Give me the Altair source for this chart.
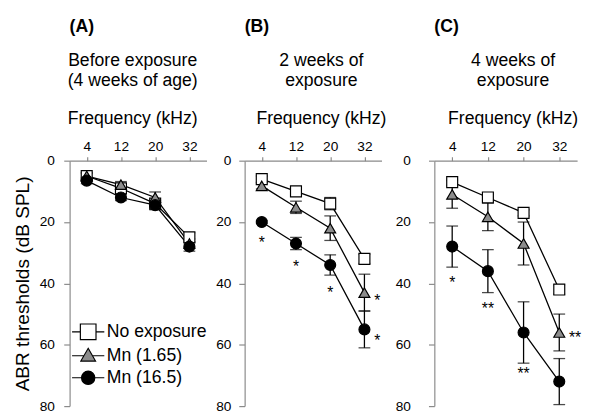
import altair as alt
import pandas as pd

freqs = [4, 12, 20, 32]
groups = ["No exposure", "Mn (1.65)", "Mn (16.5)"]

# Panel A: before exposure (4 weeks of age)
a_none = [5, 9, 14, 25]
a_none_err = [1, 1, 1, 1.5]
a_low = [5, 7.8, 12, 27]
a_low_err = [1, 1, 1.8, 1.5]
a_high = [6.5, 12, 14.5, 28]
a_high_err = [1, 1, 1.5, 1.5]

# Panel B: 2 weeks of exposure
b_none = [6, 10, 14, 32]
b_none_err = [1, 1, 2, 1.5]
b_low = [8.2, 15.2, 22, 43]
b_low_err = [1, 2, 4, 6]
b_high = [20, 27, 34, 55]
b_high_err = [0.5, 2, 3.3, 6]

# Panel C: 4 weeks of exposure
c_none = [7, 12, 17, 42]
c_none_err = [1, 1, 1, 1.5]
c_low = [11, 18.3, 27, 56]
c_low_err = [4.5, 4.5, 7, 6]
c_high = [28, 36, 56, 72]
c_high_err = [6.7, 7, 10, 7.5]

# significance marks
sig_panel = ["B", "B", "B", "B", "B", "C", "C", "C", "C"]
sig_freq = [4, 12, 20, 32, 32, 4, 12, 20, 32]
sig_value = [25.5, 33.5, 41.8, 44.4, 57.4, 38.7, 47, 68.2, 56.5]
sig_text = ["*", "*", "*", "*", "*", "*", "**", "**", "**"]
sig_side = ["below", "below", "below", "right", "right", "below", "below", "below", "right"]

series = {
    "A": [(a_none, a_none_err), (a_low, a_low_err), (a_high, a_high_err)],
    "B": [(b_none, b_none_err), (b_low, b_low_err), (b_high, b_high_err)],
    "C": [(c_none, c_none_err), (c_low, c_low_err), (c_high, c_high_err)],
}
rows = []
for p, lst in series.items():
    for g, (vals, errs) in zip(groups, lst):
        for f, v, e in zip(freqs, vals, errs):
            rows.append({"panel": p, "group": g, "freq": f, "value": v,
                         "lo": v - e, "hi": v + e})
df = pd.DataFrame(rows)
sig_df = pd.DataFrame({"panel": sig_panel, "freq": sig_freq, "value": sig_value,
                       "text": sig_text, "side": sig_side})

GRAY = "#8a8a8a"
point_shapes = ["square", "triangle-up", "circle"]
fills = ["white", "#8c8c8c", "black"]
strokes = ["black", "black", "black"]
legend_paths = [
    "M-2.06,0H-1M1,0H2.06M-1,-1H1V1H-1Z",
    "M-2.06,0H-0.55M0.55,0H2.06M0,-0.95L0.94,0.68H-0.94Z",
    "M-2.06,0H2.06M0.85,0A0.85,0.85,0,1,1,-0.85,0A0.85,0.85,0,1,1,0.85,0Z",
]


def panel(key, width, ytitle, subtitle, label, label_pad, title_x, with_legend):
    xscale = alt.Scale(type="point", padding=0.5)
    yscale = alt.Scale(domain=[0, 80], reverse=True, nice=False, zero=False)
    xaxis = alt.Axis(orient="top", title="Frequency (kHz)",
                     labelAngle=0, domainColor=GRAY, tickColor=GRAY, tickSize=4,
                     domainWidth=1.2, tickWidth=1.2,
                     labelFontSize=14, labelColor="black", labelPadding=3,
                     titleFontSize=18, titleFontWeight="normal",
                     titlePadding=13, titleColor="black", titleX=title_x, grid=False)
    subaxis = alt.Axis(orient="top", title=subtitle, labels=False, ticks=False,
                       domain=False, grid=False, titleFontSize=18,
                       titleFontWeight="normal", titleLineHeight=20, titlePadding=73,
                       titleColor="black", titleX=title_x)
    yaxis = alt.Axis(values=[0, 20, 40, 60, 80], title=ytitle, domainColor=GRAY,
                     tickColor=GRAY, tickSize=6, domainWidth=1.2, tickWidth=1.2,
                     labelFontSize=14, labelColor="black", labelPadding=label_pad,
                     titleFontSize=19.5, titleFontWeight="normal", titlePadding=7,
                     titleColor="black", grid=False)
    x = alt.X("freq:O", sort=freqs, scale=xscale, axis=xaxis)

    def y(field):
        return alt.Y(field, type="quantitative", scale=yscale, axis=yaxis)

    base = alt.Chart(df).transform_filter(alt.datum.panel == key)

    lines = base.mark_line(color="black", strokeWidth=1.3).encode(
        x=x, y=y("value"), detail="group:N")
    rules = base.mark_rule(color="black", strokeWidth=1.3).encode(
        x=x, y=y("lo"), y2="hi:Q")
    tlo = base.mark_tick(color="black", thickness=1.3, size=12).encode(x=x, y=y("lo"))
    thi = base.mark_tick(color="black", thickness=1.3, size=12).encode(x=x, y=y("hi"))
    pts = base.mark_point(filled=True, stroke="black", strokeWidth=1.2, size=125,
                          opacity=1).encode(
        x=x, y=y("value"),
        shape=alt.Shape("group:N", scale=alt.Scale(domain=groups, range=point_shapes),
                        legend=None),
        fill=alt.Fill("group:N", scale=alt.Scale(domain=groups, range=fills),
                      legend=None))
    layers = [lines, rules, tlo, thi, pts]
    if key != "A":
        sbase = alt.Chart(sig_df).transform_filter(alt.datum.panel == key)
        below = sbase.transform_filter(alt.datum.side == "below").mark_text(
            fontSize=16, color="black", align="center", baseline="middle", dy=4).encode(
            x=x, y=y("value"), text="text:N")
        right = sbase.transform_filter(alt.datum.side == "right").mark_text(
            fontSize=16, color="black", align="left", baseline="middle", dx=10, dy=4).encode(
            x=x, y=y("value"), text="text:N")
        layers += [below, right]
    inner = alt.layer(*layers)
    if with_legend:
        leg = dict(orient="none", legendX=10, legendY=166, padding=0, title=None,
                   labelFontSize=18, labelColor="black", symbolSize=256,
                   symbolStrokeColor="black", symbolStrokeWidth=1.2,
                   rowPadding=3.5, labelOffset=10, symbolOffset=0)
        lg = alt.Chart(df).transform_filter("false").mark_point(
            filled=True, strokeWidth=1.2, opacity=1).encode(
            x=x, y=y("value"),
            shape=alt.Shape("group:N", scale=alt.Scale(domain=groups, range=legend_paths),
                            legend=alt.Legend(**leg)),
            fill=alt.Fill("group:N", scale=alt.Scale(domain=groups, range=fills),
                          legend=alt.Legend(**leg)),
            stroke=alt.Stroke("group:N", scale=alt.Scale(domain=groups, range=strokes),
                              legend=alt.Legend(**leg)))
        inner = alt.layer(*layers, lg).resolve_scale(
            shape="independent", fill="independent", stroke="independent")
    # invisible layer carrying the panel heading as a second top axis title
    head = base.mark_point(opacity=0).encode(
        x=alt.X("freq:O", sort=freqs, scale=xscale, axis=subaxis), y=y("value"))
    ch = alt.layer(inner, head).resolve_scale(x="independent").properties(
        width=width, height=251,
        title=alt.TitleParams(text=label, anchor="start", frame="group", fontSize=18,
                              fontWeight="bold", color="black", offset=17))
    return ch


pa = panel("A", 140, "ABR thresholds (dB SPL)", ["Before exposure", "(4 weeks of age)"],
           "(A)", 9.5, 64, True)
pb = panel("B", 140, None, ["2 weeks of", "exposure"], "(B)", 8, 78, False)
pc = panel("C", 146, None, ["4 weeks of", "exposure"], "(C)", 18.5, 80, False)

chart = alt.hconcat(pa, pb, pc, spacing=8).properties(
    padding={"left": 4, "top": 5.5, "right": 0, "bottom": 0}
).configure(font="Liberation Sans").configure_view(stroke=None)

chart.save("out.html", embed_options={"renderer": "svg", "actions": False})
